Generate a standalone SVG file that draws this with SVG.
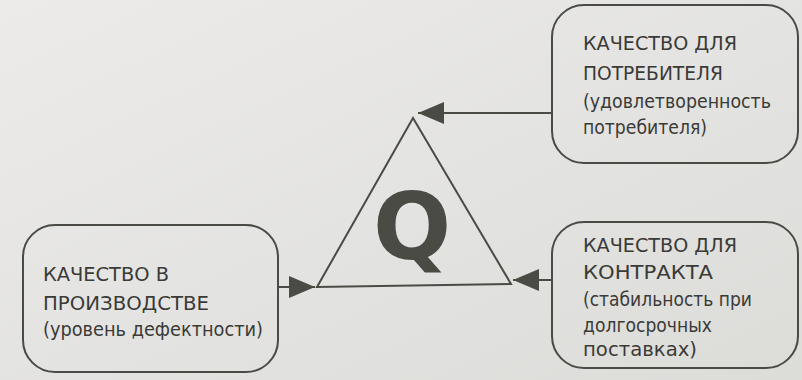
<svg xmlns="http://www.w3.org/2000/svg" width="802" height="380" viewBox="0 0 802 380">
  <defs>
    <linearGradient id="paper" x1="0" y1="0" x2="1" y2="1">
      <stop offset="0" stop-color="#ecebea"/>
      <stop offset="1" stop-color="#dcdcd9"/>
    </linearGradient>
    <marker id="arrow" viewBox="0 0 26 22" refX="26" refY="11" markerWidth="26" markerHeight="22" markerUnits="userSpaceOnUse" orient="auto">
      <path d="M0,0 L26,11 L0,22 Z" fill="#4a4b45"/>
    </marker>
  </defs>
  <style>
    .box { fill: none; stroke: #4a4b45; stroke-width: 2; }
    .edge { fill: none; stroke: #4a4b45; stroke-width: 2.2; marker-end: url(#arrow); }
    .label { font-family: "DejaVu Sans", "Liberation Sans", sans-serif; font-size: 19px; fill: #3a3a37; }
  </style>

  <rect width="802" height="380" fill="url(#paper)"/>

  <!-- central quality triangle -->
  <g id="quality">
    <polygon points="413,118 317,287 511,284" fill="none" stroke="#4a4b45" stroke-width="2"/>
    <text x="412" y="259" text-anchor="middle" font-family="DejaVu Sans, Liberation Sans, sans-serif" font-weight="bold" font-size="92" fill="#4a4b45">Q</text>
  </g>

  <!-- consumer quality -->
  <g id="consumer">
    <rect class="box" x="552" y="5" width="246" height="158" rx="32" ry="32"/>
    <text class="label" x="583" y="50" textLength="154" lengthAdjust="spacingAndGlyphs">КАЧЕСТВО ДЛЯ</text>
    <text class="label" x="583" y="80" textLength="140" lengthAdjust="spacingAndGlyphs">ПОТРЕБИТЕЛЯ</text>
    <text class="label" x="583" y="108" textLength="188" lengthAdjust="spacingAndGlyphs">(удовлетворенность</text>
    <text class="label" x="583" y="134" textLength="124" lengthAdjust="spacingAndGlyphs">потребителя)</text>
  </g>

  <!-- contract quality -->
  <g id="contract">
    <rect class="box" x="552" y="222" width="246" height="146" rx="32" ry="32"/>
    <text class="label" x="583" y="252" textLength="154" lengthAdjust="spacingAndGlyphs">КАЧЕСТВО ДЛЯ</text>
    <text class="label" x="583" y="279" textLength="130" lengthAdjust="spacingAndGlyphs">КОНТРАКТА</text>
    <text class="label" x="583" y="306" textLength="169" lengthAdjust="spacingAndGlyphs">(стабильность при</text>
    <text class="label" x="583" y="332" textLength="129" lengthAdjust="spacingAndGlyphs">долгосрочных</text>
    <text class="label" x="583" y="356" textLength="114" lengthAdjust="spacingAndGlyphs">поставках)</text>
  </g>

  <!-- production quality -->
  <g id="production">
    <rect class="box" x="23" y="225" width="255" height="147" rx="32" ry="32"/>
    <text class="label" x="43" y="281" textLength="126" lengthAdjust="spacingAndGlyphs">КАЧЕСТВО В</text>
    <text class="label" x="43" y="310" textLength="166" lengthAdjust="spacingAndGlyphs">ПРОИЗВОДСТВЕ</text>
    <text class="label" x="43" y="336" textLength="220" lengthAdjust="spacingAndGlyphs">(уровень дефектности)</text>
  </g>

  <!-- connectors -->
  <g id="connectors">
    <line class="edge" x1="552" y1="113" x2="418" y2="113"/>
    <line class="edge" x1="552" y1="280" x2="513" y2="280"/>
    <line class="edge" x1="278" y1="287" x2="315" y2="287"/>
  </g>
</svg>
